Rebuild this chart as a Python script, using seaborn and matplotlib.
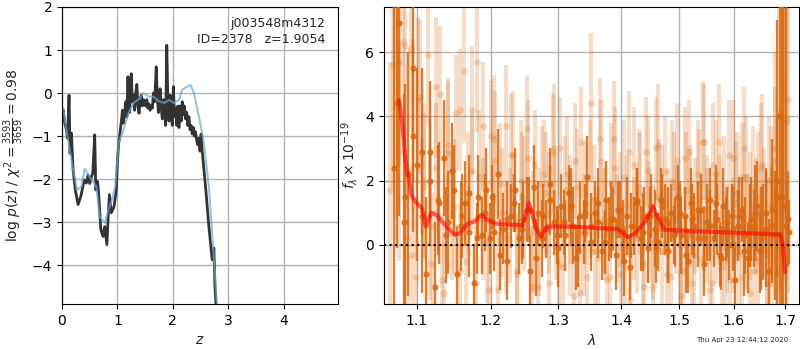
import numpy as np
import pandas as pd
import matplotlib
matplotlib.use('Agg')
import matplotlib.pyplot as plt
import seaborn as sns
from matplotlib.ticker import ScalarFormatter, NullLocator

# p(z) curves (left panel)
z_fine = [0.00, 0.02, 0.05, 0.08, 0.10, 0.127, 0.145, 0.17, 0.20, 0.24,
          0.29, 0.34, 0.40, 0.44, 0.47, 0.50, 0.53, 0.555, 0.59, 0.61,
          0.64, 0.66, 0.70, 0.74, 0.77, 0.81, 0.83, 0.855, 0.89, 0.94,
          0.98, 1.00, 1.02, 1.04, 1.06, 1.08, 1.09, 1.11, 1.13, 1.15,
          1.17, 1.19, 1.20, 1.22, 1.24, 1.25, 1.27, 1.29, 1.31, 1.33,
          1.35, 1.37, 1.39, 1.41, 1.43, 1.45, 1.47, 1.49, 1.51, 1.53,
          1.55, 1.57, 1.59, 1.61, 1.63, 1.65, 1.67, 1.69, 1.70, 1.72,
          1.74, 1.76, 1.77, 1.79, 1.81, 1.83, 1.85, 1.87, 1.89, 1.91,
          1.93, 1.95, 1.97, 1.99, 2.01, 2.03, 2.05, 2.07, 2.09, 2.11,
          2.13, 2.15, 2.17, 2.19, 2.21, 2.23, 2.25, 2.27, 2.29, 2.31,
          2.33, 2.35, 2.37, 2.39, 2.41, 2.43, 2.45, 2.47, 2.49, 2.51,
          2.53, 2.59, 2.65, 2.71, 2.74, 2.76, 2.78]
lnp_fine = [-0.50, -0.39, -0.70, -0.85, -1.05, -0.05, -1.40, -0.93, -1.78, -2.25,
            -2.59, -2.40, -2.02, -2.09, -1.90, -2.10, -1.95, -1.86, -0.97, -2.25,
            -2.05, -2.30, -3.17, -3.33, -3.10, -3.52, -2.95, -2.36, -2.78, -2.63,
            -2.25, -1.60, -1.20, -1.00, -0.78, -0.55, -0.40, -0.70, -0.45, -0.20,
            -0.55, 0.38, -0.10, -0.45, 0.10, 0.45, -0.20, -0.05, -0.40, 0.00,
            0.20, -0.30, -0.47, -0.15, -0.05, -0.30, -0.15, -0.25, -0.30, -0.15,
            -0.35, -0.25, -0.40, -0.30, -0.35, 0.00, -0.20, 0.30, 0.61, -0.10,
            -0.45, -0.10, 0.10, -0.35, -0.60, -0.15, -0.45, -0.75, 1.11, -0.20,
            -0.65, -0.05, -0.50, -0.75, 0.15, -0.55, -0.35, -0.75, -0.30, -0.80,
            -0.30, -0.65, -0.20, -0.50, -0.30, -0.60, -0.45, -0.75, -0.55, -0.85,
            -0.75, -0.95, -0.80, -1.00, -0.90, -1.10, -1.20, -1.05, -1.35, -0.95,
            -1.35, -2.17, -3.10, -3.87, -3.60, -4.50, -4.95]

z_smooth = [0.00, 0.02, 0.08, 0.14, 0.20, 0.27, 0.35, 0.41, 0.49, 0.56,
            0.62, 0.68, 0.78, 0.82, 0.90, 0.96, 1.02, 1.11, 1.20, 1.29,
            1.41, 1.47, 1.56, 1.65, 1.75, 1.84, 1.93, 2.02, 2.11, 2.17,
            2.32, 2.38, 2.47, 2.56, 2.65, 2.75, 2.80]
lnp_smooth = [-0.47, -0.35, -0.85, -1.32, -1.78, -2.25, -2.17, -1.76, -1.94, -2.05,
              -2.17, -2.87, -3.02, -2.79, -2.48, -2.17, -1.16, -0.85, -0.47, -0.23,
              -0.12, 0.00, -0.08, -0.08, -0.19, -0.23, -0.16, -0.23, -0.16, 0.08,
              0.19, 0.00, -0.54, -1.16, -2.17, -4.03, -5.00]

# spectrum (right panel)
lam_model = [1.077, 1.081, 1.085, 1.089, 1.0935, 1.100, 1.1065, 1.1117, 1.119, 1.126,
             1.139, 1.150, 1.157, 1.169, 1.177, 1.187, 1.196, 1.2055, 1.216, 1.2466,
             1.2557, 1.2605, 1.267, 1.274, 1.283, 1.319, 1.395, 1.411, 1.424, 1.441,
             1.454, 1.462, 1.474, 1.55, 1.676, 1.690, 1.695, 1.700]
flux_model = [4.5, 3.8, 2.64, 2.12, 1.5, 1.3, 1.14, 0.57, 1.0, 0.93,
              0.57, 0.31, 0.36, 0.67, 0.72, 0.93, 0.78, 0.67, 0.65, 0.61,
              1.3, 0.98, 0.47, 0.26, 0.57, 0.57, 0.49, 0.24, 0.36, 0.73,
              1.17, 0.88, 0.47, 0.41, 0.33, 0.33, 0.0, -0.85]

# dark points, beam A
lam_dark_range = (1.071, 1.708)
flux_dark = [2.4, 6.9, 0.7, 2.2, 5.5, 2.5, 2.9, -0.9, 2.9, -1.3,
             1.3, 2.7, 0.7, 2.3, -0.9, 0.6, 1.3, 0.4, -1.2, 1.5,
             0.3, 1.7, 0.2, 0.4, 2.2, 0.5, -0.5, 0.9, 1.7, 0.2,
             0.8, 1.1, -0.8, 1.8, 1.0, 0.2, 0.5, 1.9, 0.7, -0.1,
             1.2, 0.3, 1.6, 0.6, -0.4, 0.9, 0.4, 2.1, 0.1, 1.0,
             0.7, -0.2, 1.4, 0.5, 0.8, -0.3, 1.1, 0.4, 0.9, -0.7,
             0.6, 1.3, 0.2, 0.9, -0.1, 1.2, 0.5, 0.1, 1.4, 0.8,
             -0.2, 1.0, 0.4, 1.5, 0.3, 0.9, -0.5, 1.3, 0.6, 0.2,
             1.1, -0.6, 0.7, 1.4, 0.2, 0.8, -0.3, 1.2, 0.5, 0.0,
             0.9, -1.1, 0.6, 1.1, 0.3, -0.4, 0.8, 0.5, 1.2, -0.2,
             0.4, 1.0, -0.8, 0.6, 0.3, 1.5, 4.0, 1.2, 0.6, 0.4]
err_dark = [5.5, 6.0, 4.0, 3.8, 3.5, 3.0, 2.6, 2.4, 2.2, 2.0,
            1.9, 1.8, 1.6, 1.5, 1.5, 1.4, 1.3, 1.4, 1.2, 1.3,
            1.2, 1.3, 1.1, 1.2, 1.4, 1.1, 1.2, 1.0, 1.3, 1.1,
            1.2, 1.0, 1.1, 1.3, 1.0, 1.2, 0.9, 1.1, 1.0, 1.2,
            1.0, 1.1, 0.9, 1.2, 1.0, 1.1, 1.0, 1.3, 0.9, 1.0,
            1.1, 0.9, 1.2, 1.0, 1.0, 1.1, 0.9, 1.0, 1.2, 1.0,
            0.9, 1.1, 1.0, 0.9, 1.1, 1.0, 1.2, 0.9, 1.0, 1.1,
            1.0, 0.9, 1.1, 1.0, 1.2, 0.9, 1.0, 1.1, 1.0, 0.9,
            1.1, 1.0, 1.2, 1.0, 0.9, 1.1, 1.0, 1.2, 1.0, 1.1,
            1.0, 1.2, 1.1, 1.0, 1.2, 1.1, 1.3, 1.2, 1.4, 1.3,
            1.5, 1.4, 1.6, 1.8, 2.0, 2.5, 6.0, 7.0, 8.0, 1.0]

# dark points, beam B
lam_dark2_range = (1.074, 1.705)
flux_dark2 = [4.4, 1.5, 3.4, 0.9, 2.0, 1.4, 0.3, 1.7, 0.9, 1.6,
              0.2, 1.0, 1.5, -0.3, 0.8, 1.3, 0.5, 1.1, -0.4, 0.9,
              1.4, 0.3, 0.7, 1.2, -0.2, 1.0, 0.6, 1.3, 0.1, 0.8,
              1.1, -0.5, 0.6, 1.4, 0.4, 0.9, -0.1, 1.2, 0.7, 0.3,
              1.0, -0.3, 0.8, 1.1, 0.2, 0.6, 1.3, -0.4, 0.7, 0.5,
              0.9, -0.2, 0.6, 1.0, 0.2, 0.5, 1.1, 2.0, 1.5, 0.8]
err_dark2 = [4.5, 3.5, 3.0, 2.4, 2.0, 1.7, 1.5, 1.4, 1.3, 1.2,
             1.1, 1.2, 1.0, 1.1, 1.2, 0.9, 1.1, 1.0, 1.2, 1.0,
             1.1, 0.9, 1.0, 1.2, 1.1, 0.9, 1.0, 1.1, 1.0, 1.2,
             0.9, 1.1, 1.0, 1.0, 1.2, 0.9, 1.1, 1.0, 1.1, 0.9,
             1.0, 1.2, 1.1, 0.9, 1.0, 1.1, 1.2, 1.0, 1.1, 1.3,
             1.2, 1.4, 1.3, 1.5, 1.6, 1.8, 2.2, 5.0, 6.5, 1.5]

# light points, beam A
lam_light_range = (1.066, 1.706)
flux_light = [1.7, 4.3, 5.7, 6.3, 0.2, 6.1, -1.0, 4.6, 1.8, 5.9,
              -0.6, 2.4, 4.7, -1.5, 2.9, 0.9, 4.1, -0.8, 5.4, 1.6,
              4.2, -1.2, 2.1, 3.7, 0.1, 3.4, 2.6, -1.4, 1.0, 3.7,
              0.6, 2.8, -0.9, 2.0, 1.3, 2.7, -1.3, 2.5, 0.4, 1.9,
              1.6, -1.2, 2.9, 0.9, 3.0, -0.7, 2.2, 1.1, -1.6, 1.8,
              3.2, 0.3, -1.0, 4.4, 1.4, -0.4, 2.6, 0.8, -1.1, 1.9,
              3.3, 0.5, -0.9, 2.1, 1.2, -1.7, 2.5, 0.2, 1.6, -0.6,
              2.9, 0.7, -1.3, 3.0, 1.5, -0.2, 2.3, 0.6, -1.0, 1.8,
              2.6, 0.0, -0.8, 1.7, 2.9, -1.2, 0.9, 2.2, -0.4, 3.2,
              1.1, -1.4, 2.5, 0.5, 3.2, -0.7, 1.6, 0.2, -1.1, 2.7,
              1.3, -0.3, 2.1, 3.0, 0.4, -1.5, 1.8, 0.9, -0.5, 2.4,
              1.0, -1.2, 2.0, 0.3, 2.6, -0.9, 1.4, 4.7, 3.8, 4.5]
err_light = [4.0, 3.5, 3.2, 3.0, 2.8, 2.6, 2.5, 2.4, 2.3, 2.2,
             2.2, 2.0, 2.1, 1.9, 2.3, 2.0, 1.8, 2.1, 2.2, 1.9,
             2.0, 1.8, 2.1, 2.0, 1.9, 1.7, 2.2, 1.8, 2.0, 1.9,
             1.8, 2.0, 1.7, 1.9, 2.1, 1.8, 1.9, 1.7, 2.0, 1.8,
             1.9, 1.7, 1.8, 2.0, 1.6, 1.9, 1.8, 1.7, 2.0, 1.8,
             1.7, 1.9, 1.8, 2.2, 1.7, 1.8, 1.9, 1.6, 1.8, 1.9,
             1.8, 1.7, 1.9, 1.8, 1.6, 1.9, 1.8, 1.7, 1.9, 1.8,
             1.7, 1.9, 1.8, 1.6, 1.8, 1.9, 1.7, 1.8, 1.9, 1.7,
             1.8, 1.9, 1.7, 1.8, 1.6, 1.9, 1.8, 1.7, 1.9, 1.8,
             1.7, 1.8, 1.9, 1.7, 1.8, 1.9, 1.8, 1.7, 1.9, 1.8,
             1.9, 1.8, 1.7, 1.9, 1.8, 1.7, 1.9, 1.8, 1.9, 2.0,
             2.0, 2.1, 2.0, 2.2, 2.3, 2.5, 2.8, 4.0, 5.0, 6.0]

# light points, beam B
lam_light2_range = (1.069, 1.703)
flux_light2 = [5.6, 2.9, 6.2, -0.3, 4.5, 2.0, 0.6, 4.9, -1.1, 3.1,
               1.2, 4.2, -0.5, 2.3, 5.7, 0.8, -1.4, 3.3, 1.9, 0.2,
               2.8, -0.8, 1.5, 3.6, 0.4, -1.3, 2.2, 1.0, 3.0, -0.6,
               1.7, 0.3, 2.6, -1.5, 1.3, 2.1, -0.2, 3.3, 0.7, -1.0,
               2.4, 1.1, -0.7, 2.9, 0.5, 1.8, -1.3, 2.3, 0.1, 3.1,
               1.4, -0.9, 2.0, 0.8, -1.6, 2.7, 1.2, -0.3, 1.9, 3.2,
               0.6, -1.2, 2.2, 1.0, -0.5, 2.8, 0.3, 1.6, -1.0, 2.1,
               0.9, -0.8, 1.5, 2.5, -0.2, 1.2, 3.0, 4.0, 5.1, 3.9]
err_light2 = [3.8, 3.4, 3.0, 2.8, 2.6, 2.4, 2.3, 2.2, 2.1, 2.0,
              2.1, 1.9, 2.0, 1.8, 2.2, 1.9, 1.8, 2.0, 1.9, 1.7,
              1.9, 1.8, 2.0, 1.7, 1.9, 1.8, 1.7, 1.9, 2.0, 1.8,
              1.7, 1.9, 1.8, 1.6, 1.9, 1.8, 1.7, 1.9, 1.8, 1.7,
              1.9, 1.8, 1.7, 1.9, 1.6, 1.8, 1.9, 1.7, 1.8, 1.9,
              1.7, 1.8, 1.9, 1.7, 1.8, 1.6, 1.9, 1.8, 1.7, 1.9,
              1.8, 1.9, 1.7, 1.8, 1.9, 1.7, 1.8, 1.9, 2.0, 1.9,
              2.0, 2.1, 2.0, 2.2, 2.3, 2.5, 3.0, 4.5, 5.5, 6.0]

lam_dark = np.linspace(*lam_dark_range, len(flux_dark))
lam_dark2 = np.linspace(*lam_dark2_range, len(flux_dark2))
lam_light = np.linspace(*lam_light_range, len(flux_light))
lam_light2 = np.linspace(*lam_light2_range, len(flux_light2))

sns.set_style('ticks', {'axes.grid': True, 'grid.color': '0.7',
                        'axes.edgecolor': 'black', 'xtick.color': 'black',
                        'ytick.color': 'black'})
plt.rcParams['font.family'] = ['DejaVu Sans']

fig = plt.figure(figsize=(8, 3.5), dpi=100)
ax1 = fig.add_axes([0.0775, 0.1314, 0.345, 0.8486])
ax2 = fig.add_axes([0.48, 0.1314, 0.51875, 0.8486])

# left: redshift probability
pz_fine = pd.DataFrame({'z': z_fine, 'lnp': lnp_fine})
pz_smooth = pd.DataFrame({'z': z_smooth, 'lnp': lnp_smooth})
sns.lineplot(data=pz_fine, x='z', y='lnp', ax=ax1, color='0.2', lw=2,
             estimator=None, sort=False)
sns.lineplot(data=pz_smooth, x='z', y='lnp', ax=ax1, color='#6aa8d8', lw=1.5,
             alpha=0.7, estimator=None, sort=False)
ax1.set_xlim(0, 4.98)
ax1.set_ylim(-4.9, 2)
ax1.set_xticks([0, 1, 2, 3, 4])
ax1.set_yticks([-4, -3, -2, -1, 0, 1, 2])
ax1.set_xlabel('$z$')
ax1.set_ylabel(r'log $p(z)$ / $\chi^2=\frac{3593}{3659}=0.98$')
ax1.text(0.955, 0.965, 'j003548m4312\nID=2378   z=1.9054', transform=ax1.transAxes,
         ha='right', va='top', fontsize=9, linespacing=1.3)
ax1.grid(True, color='0.7', lw=1)
ax1.set_axisbelow(True)

# right: spectrum
orange = '#d9680f'
light_lam = np.concatenate([lam_light, lam_light2])
light_flux = np.concatenate([flux_light, flux_light2])
light_err = np.concatenate([err_light, err_light2])
dark_lam = np.concatenate([lam_dark, lam_dark2])
dark_flux = np.concatenate([flux_dark, flux_dark2])
dark_err = np.concatenate([err_dark, err_dark2])

ax2.errorbar(light_lam, light_flux, yerr=light_err, fmt='o', color=orange,
             alpha=0.22, ms=5, elinewidth=3, capsize=0, mec='none', zorder=2)
ax2.errorbar(dark_lam, dark_flux, yerr=dark_err, fmt='o', color=orange,
             alpha=0.85, ms=4.5, elinewidth=1.7, capsize=0, mec='none', zorder=3)
ax2.axhline(0, color='k', ls=':', lw=1.5, zorder=4)
model = pd.DataFrame({'lam': lam_model, 'flux': flux_model})
sns.lineplot(data=model, x='lam', y='flux', ax=ax2, color='red', lw=3,
             alpha=0.6, estimator=None, sort=False, zorder=5)
ax2.set_xscale('log')
ax2.set_xlim(1.058, 1.728)
ax2.set_ylim(-1.84, 7.4)
ax2.set_xticks([1.1, 1.2, 1.3, 1.4, 1.5, 1.6, 1.7])
ax2.xaxis.set_major_formatter(ScalarFormatter())
ax2.xaxis.set_minor_locator(NullLocator())
ax2.set_yticks([0, 2, 4, 6])
ax2.set_xlabel(r'$\lambda$')
ax2.set_ylabel(r'$f_\lambda\times10^{-19}$')
ax2.grid(True, color='0.7', lw=1)
ax2.set_axisbelow(True)

fig.text(0.985, 0.02, 'Thu Apr 23 12:44:12 2020', ha='right', va='bottom', fontsize=5)

fig.savefig('out.png', dpi=100)
